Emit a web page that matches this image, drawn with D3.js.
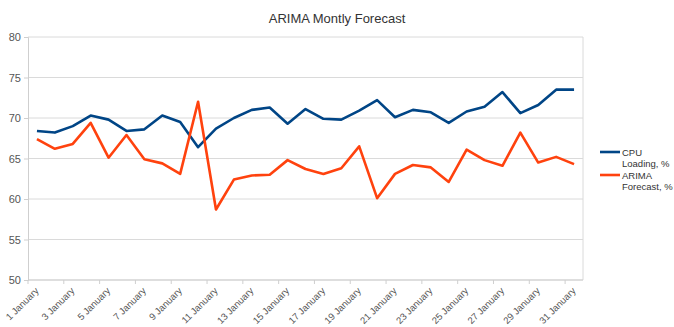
<!DOCTYPE html>
<html>
<head>
<meta charset="utf-8">
<script src="https://cdn.jsdelivr.net/npm/d3@7"></script>
<style>
  html, body { margin: 0; padding: 0; background: #fff; }
  svg { display: block; font-family: "Liberation Sans", Arial, sans-serif; }
</style>
</head>
<body>
<svg id="chart" width="674" height="327"></svg>
<script>
// Days of the month shown on the category axis
const days = d3.range(1, 32).map(d => d + " January");

// Measured CPU load, %
const cpuLoading = [68.4, 68.2, 69.0, 70.3, 69.8, 68.4, 68.6, 70.3, 69.5, 66.4,
  68.7, 70.0, 71.0, 71.3, 69.3, 71.1, 69.9, 69.8, 70.9, 72.2,
  70.1, 71.0, 70.7, 69.4, 70.8, 71.4, 73.2, 70.6, 71.6, 73.5, 73.5];

// ARIMA forecast, %
const arimaForecast = [67.4, 66.2, 66.8, 69.4, 65.1, 67.9, 64.9, 64.4, 63.1, 72.0,
  58.7, 62.4, 62.9, 63.0, 64.8, 63.7, 63.1, 63.8, 66.5, 60.1,
  63.1, 64.2, 63.9, 62.1, 66.1, 64.8, 64.1, 68.2, 64.5, 65.2, 64.3];

const yTicks = [50, 55, 60, 65, 70, 75, 80];
const seriesNames = [["CPU", "Loading, %"], ["ARIMA", "Forecast, %"]];
const seriesColors = ["#004586", "#ff420e"];
const title = "ARIMA Montly Forecast";

const svg = d3.select("#chart");
const plotL = 28, plotR = 583, plotT = 37, plotB = 280;

const x = d3.scaleBand().domain(days).range([plotL, plotR]).padding(0);
const y = d3.scaleLinear().domain([50, 80]).range([plotB, plotT]);

// Horizontal grid
svg.append("g").selectAll("line").data(yTicks).join("line")
  .attr("x1", plotL).attr("x2", plotR)
  .attr("y1", d => y(d)).attr("y2", d => y(d))
  .attr("stroke", "#dadada").attr("stroke-width", 1);

// Right border of the plot area
svg.append("line").attr("x1", plotR).attr("x2", plotR).attr("y1", plotT).attr("y2", plotB)
  .attr("stroke", "#dadada");

// Y axis
const yAxis = svg.append("g").attr("transform", `translate(${plotL},0)`)
  .call(d3.axisLeft(y).tickValues(yTicks).tickSize(4).tickPadding(3));
yAxis.select(".domain").attr("stroke", "#cfcfcf");
yAxis.selectAll(".tick line").attr("stroke", "#cfcfcf");
yAxis.selectAll("text").attr("fill", "#555").attr("font-size", 11)
  .attr("font-family", "Liberation Sans, Arial, sans-serif");

// X axis: ticks on band boundaries of every second day, labels rotated
const labelled = days.filter((d, i) => i % 2 === 0);
const xAxis = svg.append("g").attr("transform", `translate(0,${plotB})`);
xAxis.append("line").attr("x1", plotL).attr("x2", plotR).attr("stroke", "#cfcfcf");
xAxis.selectAll("line.tk").data(labelled).join("line").attr("class", "tk")
  .attr("x1", d => x(d)).attr("x2", d => x(d)).attr("y1", 0).attr("y2", 4)
  .attr("stroke", "#cfcfcf");
xAxis.selectAll("text").data(labelled).join("text")
  .attr("transform", d => `translate(${x(d) + x.bandwidth() / 2},${9}) rotate(-45)`)
  .attr("text-anchor", "end")
  .attr("dy", "0.35em")
  .attr("font-size", 9.5)
  .attr("fill", "#555")
  .text(d => d);

// Series lines
const line = d3.line().x((d, i) => x(days[i]) + x.bandwidth() / 2).y(d => y(d));
[cpuLoading, arimaForecast].forEach((s, k) => {
  svg.append("path").datum(s).attr("d", line)
    .attr("fill", "none").attr("stroke", seriesColors[k])
    .attr("stroke-width", 2.6).attr("stroke-linejoin", "round");
});

// Title
svg.append("text").attr("x", 337).attr("y", 23).attr("text-anchor", "middle")
  .attr("font-size", 13).attr("fill", "#333").text(title);

// Legend
const legend = svg.append("g");
seriesNames.forEach((nm, k) => {
  const ly = 152 + k * 23;
  legend.append("line").attr("x1", 600).attr("x2", 620).attr("y1", ly).attr("y2", ly)
    .attr("stroke", seriesColors[k]).attr("stroke-width", 2.6);
  legend.append("text").attr("x", 622).attr("y", ly + 3.5).attr("font-size", 9.5)
    .attr("fill", "#333")
    .selectAll("tspan").data(nm).join("tspan")
    .attr("x", 622).attr("dy", (d, i) => i === 0 ? 0 : 11).text(d => d);
});
</script>
</body>
</html>
